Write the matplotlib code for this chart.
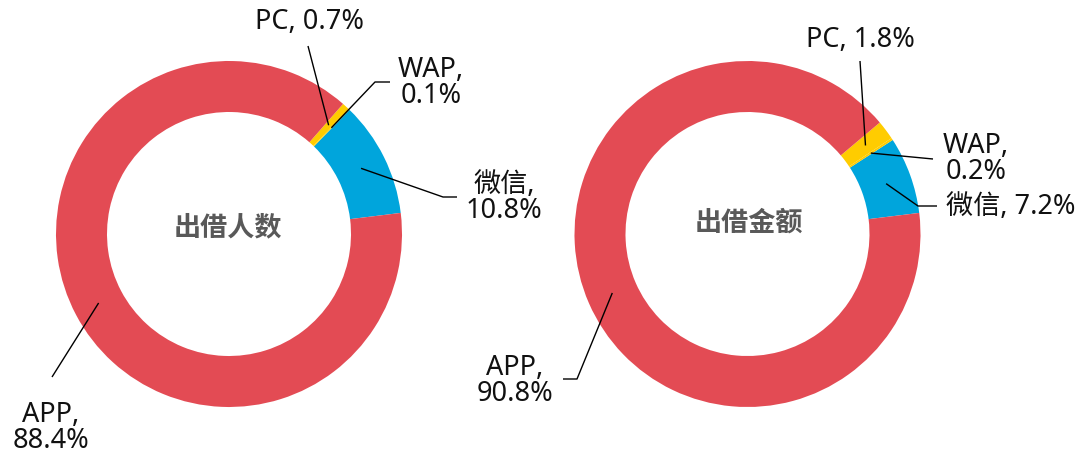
import numpy as np
import matplotlib
matplotlib.use('Agg')
import matplotlib.pyplot as plt

# data: order goes counterclockwise from the start angle
channels = ['微信', 'WAP', 'PC', 'APP']
people_share = [10.8, 0.1, 0.7, 88.4]   # 出借人数
amount_share = [7.2, 0.2, 1.8, 90.8]    # 出借金额
titles = ['出借人数', '出借金额']

colors = ['#00A5DC', '#FFCC00', '#FFCC00', '#E34B54']

W, H = 1080, 456
START = 7
R_OUT, R_IN = 173, 122
R_MID = (R_OUT + R_IN) / 2

fig = plt.figure(figsize=(10.8, 4.56), dpi=100)
ax = fig.add_axes([0, 0, 1, 1])

label_font = ['Noto Sans', 'Noto Sans CJK SC', 'DejaVu Sans']

# layout per chart: center, and per label (path points after the start point, text pos, text, ha)
charts = [
    dict(center=(229, 235), values=people_share, title=titles[0], title_pos=(228, 227),
         labels={
             '微信': ([(443, 198), (457, 198)], (504, 198), '微信,\n10.8%', 'center'),
             'WAP': ([(375, 83), (390, 83)], (431, 83), 'WAP,\n0.1%', 'center'),
             'PC': ([(308, 47)], (309, 22), 'PC, 0.7%', 'center'),
             'APP': ([(52, 378)], (51, 428), 'APP,\n88.4%', 'center'),
         }),
    dict(center=(747.5, 235), values=amount_share, title=titles[1], title_pos=(749, 223),
         labels={
             '微信': ([(918, 207), (937, 207)], (946, 207), '微信, 7.2%', 'left'),
             'WAP': ([(933, 160)], (976, 159), 'WAP,\n0.2%', 'center'),
             'PC': ([(860, 62)], (860, 40), 'PC, 1.8%', 'center'),
             'APP': ([(577, 380), (563, 380)], (515, 381), 'APP,\n90.8%', 'center'),
         }),
]

for ch in charts:
    cx, cy = ch['center']
    cy = H - cy
    vals = ch['values']
    ax.pie(vals, colors=colors, startangle=START, counterclock=True,
           radius=R_OUT, center=(cx, cy), normalize=True,
           wedgeprops=dict(width=R_OUT - R_IN, linewidth=0))
    tx, ty = ch['title_pos']
    ax.text(tx, H - ty, ch['title'], ha='center', va='center', fontsize=19.5,
            fontweight='bold', color='#595959', family=['Noto Sans CJK SC', 'DejaVu Sans'])

    total = sum(vals)
    cum = 0
    for name, v in zip(channels, vals):
        mid = np.deg2rad(START + (cum + v / 2) / total * 360)
        cum += v
        sx, sy = cx + R_MID * np.cos(mid), cy + R_MID * np.sin(mid)
        pts, (lx, ly), txt, ha = ch['labels'][name]
        xs = [sx] + [p[0] for p in pts]
        ys = [sy] + [H - p[1] for p in pts]
        ax.plot(xs, ys, color='black', linewidth=1.0, solid_capstyle='butt')
        ax.text(lx, H - ly, txt, ha=ha, va='center', fontsize=19.5, color='#111111',
                family=label_font, linespacing=0.95, multialignment='center')

ax.set_xlim(0, W)
ax.set_ylim(0, H)
ax.set_aspect('equal')
ax.axis('off')

fig.savefig('out.png', dpi=100, facecolor='white')
